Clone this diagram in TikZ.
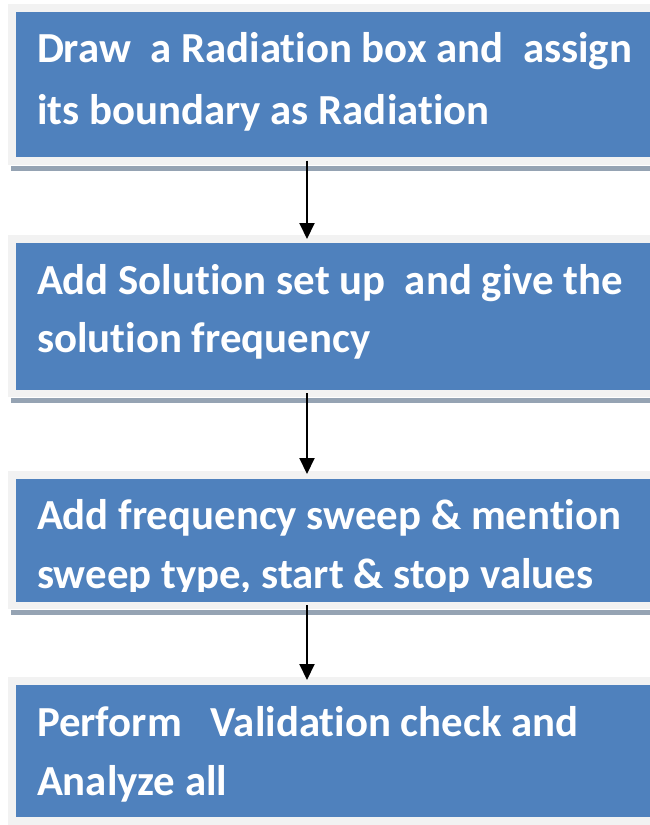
\documentclass[tikz,border=0pt]{standalone}
\usepackage{fontspec}
\setmainfont{Carlito}[Ligatures=NoCommon]
\usetikzlibrary{arrows.meta}
\definecolor{boxblue}{HTML}{4F81BD}
\definecolor{framegray}{HTML}{F2F2F2}
\definecolor{shadowgray}{HTML}{95A3B3}
\begin{document}
\begin{tikzpicture}[x=1bp,y=-1bp,
  framebox/.style={fill=framegray, draw=none, inner sep=0pt, outer sep=0pt, anchor=north west, minimum width=642.5bp},
  bluebox/.style={fill=boxblue, draw=none, inner sep=0pt, outer sep=0pt, anchor=north west, minimum width=634bp},
  shadowbox/.style={fill=shadowgray, draw=none, inner sep=0pt, outer sep=0pt, anchor=north west, minimum width=639bp, minimum height=5.5bp},
  steptext/.style={anchor=base west, inner sep=0pt, outer sep=0pt, text=white, font=\fontsize{43}{50}\selectfont\bfseries},
  arr/.style={-{Triangle[length=16bp,width=15bp]}, line width=2bp, black}]
\useasboundingbox (0,0) rectangle (650,825);
\coordinate (ax) at (307,0);
% box 1
\node[shadowbox] (s1) at (11,165.5) {};
\node[framebox, minimum height=161bp] (g1) at (7.5,4) {};
\node[bluebox, minimum height=145bp] (b1) at (16,12) {};
\node[steptext] (t1a) at (37,62) {Draw\ \ a Radiation box and\ \ assign};
\node[steptext] (t1b) at (37,124) {its boundary as Radiation};
% box 2
\node[shadowbox] (s2) at (11,397.5) {};
\node[framebox, minimum height=162bp] (g2) at (7.5,235) {};
\node[bluebox, minimum height=147bp] (b2) at (16,243) {};
\node[steptext] (t2a) at (37,294) {Add Solution set up\ \ and give the};
\node[steptext] (t2b) at (37,352) {solution frequency};
% box 3
\node[shadowbox] (s3) at (11,609.5) {};
\node[framebox, minimum height=138bp] (g3) at (7.5,471) {};
\node[bluebox, minimum height=123bp] (b3) at (16,479) {};
\node[steptext] (t3a) at (37,529) {Add frequency sweep \& mention};
\begin{scope}
  \clip (16,540) rectangle (650,591);
  \node[steptext] (t3b) at (37,588) {sweep type, start \& stop values};
\end{scope}
% box 4
\node[framebox, minimum height=148bp] (g4) at (7.5,677) {};
\node[bluebox, minimum height=132bp] (b4) at (16,685) {};
\node[steptext] (t4a) at (37,736) {Perform\ \ \ Validation check and};
\node[steptext] (t4b) at (37,795) {Analyze all};
% arrows
\draw[arr] ([yshift=-3.5bp]b1.south -| ax) -- ([yshift=-4bp]g2.north -| ax);
\draw[arr] ([yshift=-3bp]b2.south -| ax) -- ([yshift=-3bp]g3.north -| ax);
\draw[arr] ([yshift=-3bp]b3.south -| ax) -- ([yshift=-3bp]g4.north -| ax);
\end{tikzpicture}
\end{document}
